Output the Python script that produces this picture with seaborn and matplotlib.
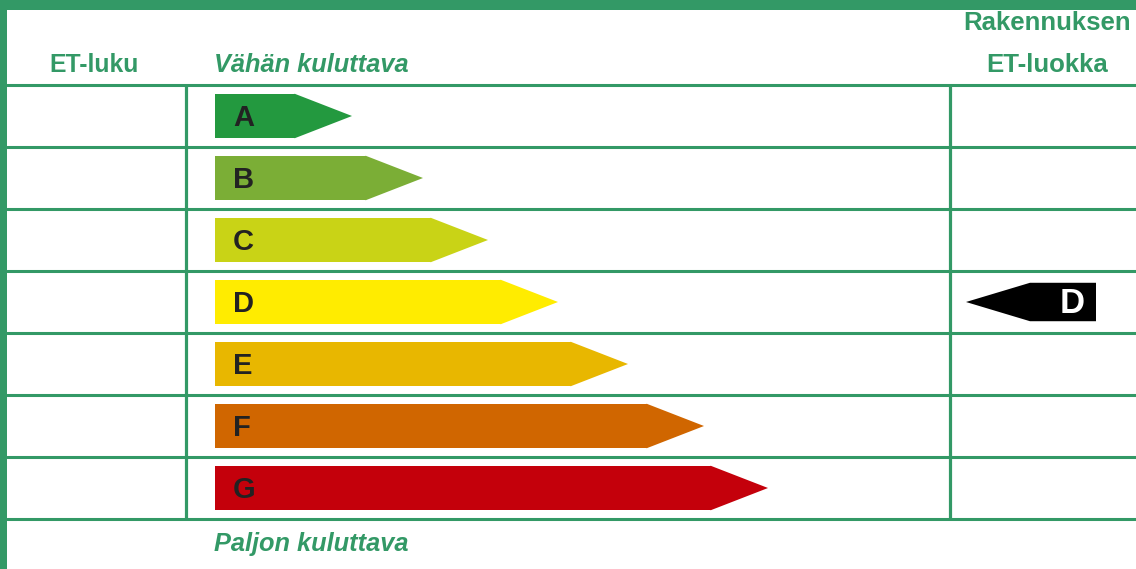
import matplotlib
matplotlib.use("Agg")
import matplotlib.pyplot as plt
import seaborn as sns
import numpy as np

# ---- data ----
classes = ["A", "B", "C", "D", "E", "F", "G"]
arrow_lengths = [137, 208, 273, 343, 413, 489, 553]   # total arrow length (px units)
class_colors = ["#23993f", "#7bae36", "#c9d316", "#ffec00", "#e8b700", "#d06600", "#c4000b"]
rating = "D"
header_left = "ET-luku"
header_top = "Vähän kuluttava"
header_bottom = "Paljon kuluttava"
header_right = ["Rakennuksen", "ET-luokka"]

sns.set_theme(style="white")
plt.rcParams["font.family"] = ["Liberation Sans", "DejaVu Sans"]

GREEN = "#339966"
W, H = 1136, 569
fig = plt.figure(figsize=(W / 100, H / 100), dpi=100)
fig.patch.set_facecolor("white")

# background axes in pixel coordinates
ax0 = fig.add_axes([0, 0, 1, 1])
ax0.set_xlim(0, W)
ax0.set_ylim(H, 0)
ax0.axis("off")
ax0.fill_between([0, W], 0, 10, color=GREEN, lw=0)
ax0.fill_betweenx([0, H], 0, 7, color=GREEN, lw=0)

txt_kw = dict(color=GREEN, fontweight="bold")
ax0.text(94, 65, header_left, ha="center", va="center", fontsize=17.8, **txt_kw)
ax0.text(214, 65, header_top, ha="left", va="center", fontsize=18.3, style="italic", **txt_kw)
ax0.text(214, 544, header_bottom, ha="left", va="center", fontsize=18.3, style="italic", **txt_kw)
ax0.text(1047, 23, header_right[0], ha="center", va="center", fontsize=18.6, **txt_kw)
ax0.text(1047, 65, header_right[1], ha="center", va="center", fontsize=18.6, **txt_kw)

# bar axes: rows between y=85 and y=519 px
ax = fig.add_axes([0, 1 - 519 / H, 1, (519 - 85) / H])
ax.patch.set_alpha(0)
tip = 57
x0 = 215
body = [v - tip for v in arrow_lengths]
sns.barplot(x=body, y=classes, hue=classes, palette=class_colors, orient="h",
            width=0.72, left=x0, saturation=1, linewidth=0, legend=False, ax=ax)
ax.set_xlim(0, W)
ax.set_ylim(6.5, -0.5)
ax.axis("off")

for p in list(ax.patches):
    xr = p.get_x() + p.get_width()
    yb, h = p.get_y(), p.get_height()
    ax.fill([xr - 0.5, xr + tip, xr - 0.5], [yb, yb + h / 2, yb + h],
            color=p.get_facecolor(), lw=0)

for i, c in enumerate(classes):
    ax.text(233, i + 0.03, c, ha="left", va="center", fontsize=21,
            fontweight="bold", color="#222222")

# grid lines
for k in range(8):
    ax.axhline(k - 0.5, xmin=7 / W, xmax=1, color=GREEN, lw=2.2, clip_on=False)
ax.vlines([186, 950], -0.5, 6.5, color=GREEN, lw=2.3, clip_on=False)

# building rating indicator
ri = classes.index(rating)
hh = 0.31
ax.fill([966, 1030, 1096, 1096, 1030], [ri, ri - hh, ri - hh, ri + hh, ri + hh],
        color="black", lw=0)
ax.text(1072, ri + 0.02, rating, ha="center", va="center", fontsize=25,
        fontweight="bold", color="white")

fig.savefig("out.png", dpi=100, facecolor="white")
